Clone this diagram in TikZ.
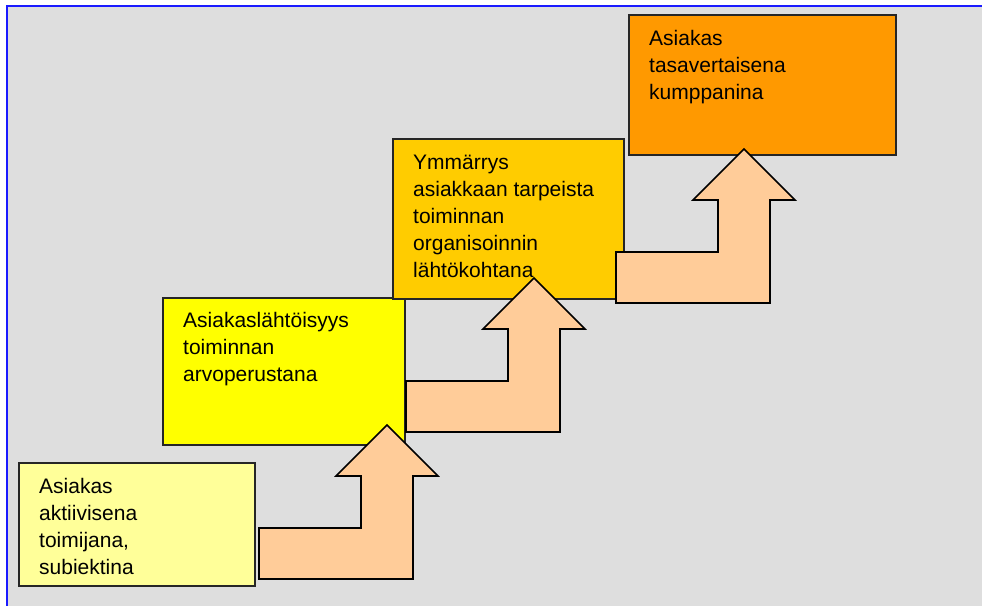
\documentclass[tikz,border=0pt]{standalone}
\usepackage{fontspec}
\setmainfont{Liberation Sans}
\definecolor{bggray}{HTML}{DEDEDE}
\definecolor{framblue}{HTML}{1A1AFF}
\definecolor{cone}{HTML}{FFFF99}
\definecolor{ctwo}{HTML}{FFFF00}
\definecolor{cthree}{HTML}{FFCC00}
\definecolor{cfour}{HTML}{FF9900}
\definecolor{carrow}{HTML}{FFCC99}
\tikzset{
  stepbox/.style={draw=black!85, line width=1.6pt, anchor=north west, inner sep=0pt},
  boxtext/.style={anchor=base west, inner sep=0pt, align=left, font=\fontsize{21}{27}\selectfont},
  arrowshape/.style={draw=black, line width=1.6pt, fill=carrow, line join=miter},
  bentarrow/.pic={
    \path[arrowshape] (0,0) -- ++(154,0) -- ++(0,-103) -- ++(25,0) -- ++(-51,-51)
      -- ++(-51,51) -- ++(25,0) -- ++(0,52) -- ++(-102,0) -- cycle;
  }
}
\begin{document}
\begin{tikzpicture}[x=1pt,y=-1pt]
\useasboundingbox (0,0) rectangle (982,605);
% background
\fill[bggray] (7,6) rectangle (983,606);
\draw[framblue, line width=2pt] (7,606) -- (7,6) -- (983,6);
% boxes
\node[stepbox, fill=cone, minimum width=236pt, minimum height=123pt] (b1) at (18,462) {};
\node[stepbox, fill=ctwo, minimum width=242pt, minimum height=147pt] (b2) at (162,297) {};
\node[stepbox, fill=cthree, minimum width=231pt, minimum height=160pt] (b3) at (392,138) {};
\node[stepbox, fill=cfour, minimum width=267pt, minimum height=140pt] (b4) at (628,14) {};
% texts (anchored at the baseline of their last line)
\node[boxtext] (t1) at (39,574) {Asiakas\\aktiivisena\\toimijana,\\subiektina};
\node[boxtext] (t2) at (183,381) {Asiakaslähtöisyys\\toiminnan\\arvoperustana};
\node[boxtext] (t3) at (413,277) {Ymmärrys\\asiakkaan tarpeista\\toiminnan\\organisoinnin\\lähtökohtana};
\node[boxtext] (t4) at (649,99) {Asiakas\\tasavertaisena\\kumppanina};
% arrows
\pic (a1) at (259,579) {bentarrow};
\pic (a2) at (406,432) {bentarrow};
\pic (a3) at (616,303) {bentarrow};
\end{tikzpicture}
\end{document}
